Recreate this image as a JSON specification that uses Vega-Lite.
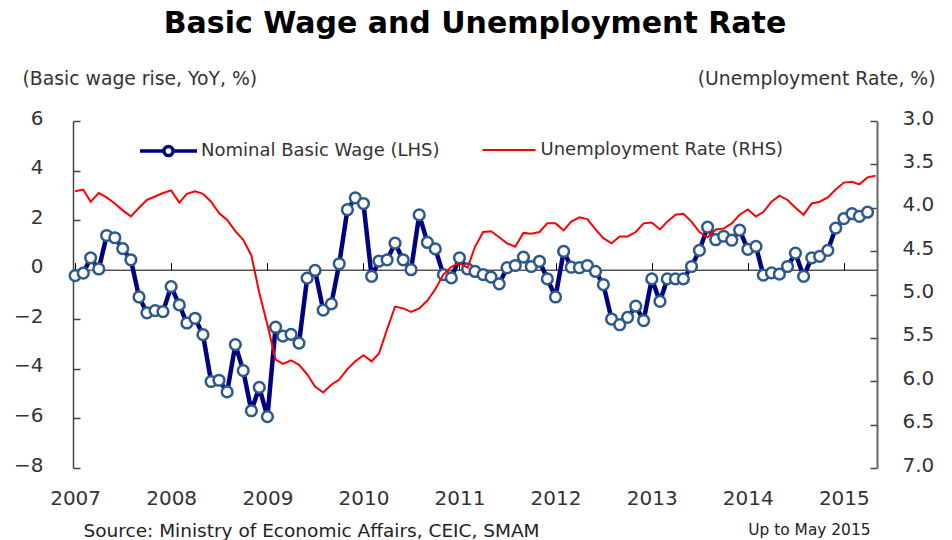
{
  "$schema": "https://vega.github.io/schema/vega-lite/v6.json",
  "width": 804,
  "height": 347,
  "autosize": "none",
  "padding": {"left": 73, "top": 121, "right": 75, "bottom": 72},
  "background": "white",
  "title": {"text": "Basic Wage and Unemployment Rate", "font": "DejaVu Sans", "fontSize": 30, "fontWeight": "bold", "color": "black", "anchor": "middle", "frame": "group", "offset": 30},
  "config": {
    "font": "DejaVu Sans",
    "view": {"stroke": null},
    "axis": {"grid": false, "labelFont": "DejaVu Sans", "labelFontSize": 20, "labelColor": "#333", "titleFont": "DejaVu Sans", "titleFontSize": 18.8, "titleFontWeight": "normal", "titleColor": "#333"}
  },
  "data": {"values": [
    {"date": "2007-01-01", "wage": -0.24, "unemp": 3.81},
    {"date": "2007-02-01", "wage": -0.14, "unemp": 3.79},
    {"date": "2007-03-01", "wage": 0.48, "unemp": 3.93},
    {"date": "2007-04-01", "wage": 0.03, "unemp": 3.83},
    {"date": "2007-05-01", "wage": 1.38, "unemp": 3.88},
    {"date": "2007-06-01", "wage": 1.29, "unemp": 3.95},
    {"date": "2007-07-01", "wage": 0.85, "unemp": 4.03},
    {"date": "2007-08-01", "wage": 0.40, "unemp": 4.10},
    {"date": "2007-09-01", "wage": -1.10, "unemp": 4.00},
    {"date": "2007-10-01", "wage": -1.74, "unemp": 3.91},
    {"date": "2007-11-01", "wage": -1.65, "unemp": 3.87},
    {"date": "2007-12-01", "wage": -1.69, "unemp": 3.83},
    {"date": "2008-01-01", "wage": -0.68, "unemp": 3.80},
    {"date": "2008-02-01", "wage": -1.42, "unemp": 3.94},
    {"date": "2008-03-01", "wage": -2.15, "unemp": 3.84},
    {"date": "2008-04-01", "wage": -1.96, "unemp": 3.81},
    {"date": "2008-05-01", "wage": -2.62, "unemp": 3.84},
    {"date": "2008-06-01", "wage": -4.51, "unemp": 3.93},
    {"date": "2008-07-01", "wage": -4.46, "unemp": 4.06},
    {"date": "2008-08-01", "wage": -4.93, "unemp": 4.14},
    {"date": "2008-09-01", "wage": -3.02, "unemp": 4.27},
    {"date": "2008-10-01", "wage": -4.07, "unemp": 4.37},
    {"date": "2008-11-01", "wage": -5.69, "unemp": 4.55},
    {"date": "2008-12-01", "wage": -4.75, "unemp": 4.98},
    {"date": "2009-01-01", "wage": -5.93, "unemp": 5.35},
    {"date": "2009-02-01", "wage": -2.32, "unemp": 5.75},
    {"date": "2009-03-01", "wage": -2.68, "unemp": 5.80},
    {"date": "2009-04-01", "wage": -2.61, "unemp": 5.76},
    {"date": "2009-05-01", "wage": -2.96, "unemp": 5.81},
    {"date": "2009-06-01", "wage": -0.34, "unemp": 5.92},
    {"date": "2009-07-01", "wage": -0.03, "unemp": 6.06},
    {"date": "2009-08-01", "wage": -1.63, "unemp": 6.13},
    {"date": "2009-09-01", "wage": -1.38, "unemp": 6.04},
    {"date": "2009-10-01", "wage": 0.24, "unemp": 5.98},
    {"date": "2009-11-01", "wage": 2.42, "unemp": 5.86},
    {"date": "2009-12-01", "wage": 2.90, "unemp": 5.77},
    {"date": "2010-01-01", "wage": 2.67, "unemp": 5.70},
    {"date": "2010-02-01", "wage": -0.27, "unemp": 5.77},
    {"date": "2010-03-01", "wage": 0.35, "unemp": 5.68},
    {"date": "2010-04-01", "wage": 0.40, "unemp": 5.40},
    {"date": "2010-05-01", "wage": 1.07, "unemp": 5.14},
    {"date": "2010-06-01", "wage": 0.40, "unemp": 5.16},
    {"date": "2010-07-01", "wage": 0.00, "unemp": 5.20},
    {"date": "2010-08-01", "wage": 2.21, "unemp": 5.16},
    {"date": "2010-09-01", "wage": 1.10, "unemp": 5.07},
    {"date": "2010-10-01", "wage": 0.84, "unemp": 4.94},
    {"date": "2010-11-01", "wage": -0.20, "unemp": 4.77},
    {"date": "2010-12-01", "wage": -0.33, "unemp": 4.68},
    {"date": "2011-01-01", "wage": 0.48, "unemp": 4.64},
    {"date": "2011-02-01", "wage": 0.03, "unemp": 4.69},
    {"date": "2011-03-01", "wage": -0.07, "unemp": 4.45},
    {"date": "2011-04-01", "wage": -0.20, "unemp": 4.28},
    {"date": "2011-05-01", "wage": -0.30, "unemp": 4.27},
    {"date": "2011-06-01", "wage": -0.57, "unemp": 4.34},
    {"date": "2011-07-01", "wage": 0.08, "unemp": 4.41},
    {"date": "2011-08-01", "wage": 0.17, "unemp": 4.45},
    {"date": "2011-09-01", "wage": 0.51, "unemp": 4.29},
    {"date": "2011-10-01", "wage": 0.13, "unemp": 4.30},
    {"date": "2011-11-01", "wage": 0.34, "unemp": 4.28},
    {"date": "2011-12-01", "wage": -0.37, "unemp": 4.18},
    {"date": "2012-01-01", "wage": -1.10, "unemp": 4.18},
    {"date": "2012-02-01", "wage": 0.74, "unemp": 4.26},
    {"date": "2012-03-01", "wage": 0.10, "unemp": 4.16},
    {"date": "2012-04-01", "wage": 0.08, "unemp": 4.11},
    {"date": "2012-05-01", "wage": 0.17, "unemp": 4.13},
    {"date": "2012-06-01", "wage": -0.07, "unemp": 4.25},
    {"date": "2012-07-01", "wage": -0.60, "unemp": 4.35},
    {"date": "2012-08-01", "wage": -1.99, "unemp": 4.41},
    {"date": "2012-09-01", "wage": -2.22, "unemp": 4.33},
    {"date": "2012-10-01", "wage": -1.92, "unemp": 4.33},
    {"date": "2012-11-01", "wage": -1.47, "unemp": 4.28},
    {"date": "2012-12-01", "wage": -2.05, "unemp": 4.18},
    {"date": "2013-01-01", "wage": -0.37, "unemp": 4.17},
    {"date": "2013-02-01", "wage": -1.28, "unemp": 4.25},
    {"date": "2013-03-01", "wage": -0.37, "unemp": 4.16},
    {"date": "2013-04-01", "wage": -0.37, "unemp": 4.08},
    {"date": "2013-05-01", "wage": -0.37, "unemp": 4.07},
    {"date": "2013-06-01", "wage": 0.13, "unemp": 4.16},
    {"date": "2013-07-01", "wage": 0.78, "unemp": 4.28},
    {"date": "2013-08-01", "wage": 1.72, "unemp": 4.34},
    {"date": "2013-09-01", "wage": 1.21, "unemp": 4.25},
    {"date": "2013-10-01", "wage": 1.35, "unemp": 4.24},
    {"date": "2013-11-01", "wage": 1.19, "unemp": 4.18},
    {"date": "2013-12-01", "wage": 1.60, "unemp": 4.08},
    {"date": "2014-01-01", "wage": 0.82, "unemp": 4.02},
    {"date": "2014-02-01", "wage": 0.94, "unemp": 4.10},
    {"date": "2014-03-01", "wage": -0.22, "unemp": 4.05},
    {"date": "2014-04-01", "wage": -0.13, "unemp": 3.93},
    {"date": "2014-05-01", "wage": -0.18, "unemp": 3.86},
    {"date": "2014-06-01", "wage": 0.13, "unemp": 3.91},
    {"date": "2014-07-01", "wage": 0.67, "unemp": 4.00},
    {"date": "2014-08-01", "wage": -0.27, "unemp": 4.08},
    {"date": "2014-09-01", "wage": 0.48, "unemp": 3.95},
    {"date": "2014-10-01", "wage": 0.54, "unemp": 3.93},
    {"date": "2014-11-01", "wage": 0.78, "unemp": 3.88},
    {"date": "2014-12-01", "wage": 1.68, "unemp": 3.79},
    {"date": "2015-01-01", "wage": 2.06, "unemp": 3.71},
    {"date": "2015-02-01", "wage": 2.26, "unemp": 3.70},
    {"date": "2015-03-01", "wage": 2.15, "unemp": 3.73},
    {"date": "2015-04-01", "wage": 2.32, "unemp": 3.65},
    {"date": "2015-05-01", "wage": null, "unemp": 3.63}
  ]},
  "layer": [
    {
      "encoding": {
        "x": {"field": "date", "type": "temporal",
          "scale": {"type": "utc", "domain": [{"year": 2006, "month": 12, "date": 24, "utc": true}, {"year": 2015, "month": 5, "date": 7, "utc": true}]},
          "axis": {"orient": "bottom", "domain": false, "ticks": false, "labelPadding": 20, "format": "%Y", "labelFlush": false, "labelOverlap": false, "tickCount": {"interval": "year", "step": 1},
            "title": "Source: Ministry of Economic Affairs, CEIC, SMAM", "titleX": 10, "titleY": 62, "titleAlign": "left", "titleBaseline": "middle", "titleFontSize": 18.5, "titleColor": "#222", "titleAngle": 0}},
        "y": {"field": "wage", "type": "quantitative",
          "scale": {"domain": [-8, 6], "nice": false, "zero": false},
          "axis": {"orient": "left", "values": [-8, -6, -4, -2, 0, 2, 4, 6], "domainColor": "#444", "domainWidth": 1.5, "tickColor": "#444", "tickWidth": 1.5, "tickSize": -7, "labelPadding": 37, "labelOffset": -3,
            "title": "(Basic wage rise, YoY, %)", "titleX": -51, "titleY": -43, "titleAlign": "left", "titleBaseline": "middle", "titleAngle": 0}}
      },
      "layer": [
        {"mark": {"type": "line", "strokeWidth": 4.5, "strokeJoin": "round"},
          "encoding": {"color": {"datum": "Nominal Basic Wage (LHS)", "type": "nominal", "scale": {"range": ["#000080"]},
            "legend": {"orient": "none", "legendX": 65, "legendY": -0.5, "title": null, "padding": 0,
              "symbolType": "M-1,0L-0.16,0M0.16,0L1,0M0.16,0A0.16,0.16,0,1,1,-0.16,0A0.16,0.16,0,1,1,0.16,0",
              "symbolSize": 3249, "symbolStrokeWidth": 3.5, "labelFont": "DejaVu Sans", "labelFontSize": 18, "labelColor": "#333", "labelOffset": 2, "labelLimit": 0,
              "encode": {"symbols": {"update": {"fill": {"value": "white"}, "stroke": {"value": "#000080"}, "strokeWidth": {"value": 3.5}, "opacity": {"value": 1}}}}}}}},
        {"mark": {"type": "point", "shape": "circle", "filled": true, "fill": "white", "stroke": "#2E5A8A", "strokeWidth": 2.5, "size": 115, "opacity": 1}}
      ]
    },
    {
      "mark": {"type": "line", "strokeWidth": 2},
      "encoding": {
        "x": {"field": "date", "type": "temporal",
          "scale": {"type": "utc", "domain": [{"year": 2006, "month": 12, "date": 24, "utc": true}, {"year": 2015, "month": 5, "date": 7, "utc": true}]},
          "axis": {"orient": "top", "offset": -148.7, "labels": false, "ticks": true, "tickSize": 7, "tickColor": "black", "domainColor": "black", "domainWidth": 1, "tickCount": {"interval": "year", "step": 1},
            "title": "Up to May 2015", "titleX": 797, "titleY": 259.3, "titleAlign": "right", "titleBaseline": "middle", "titleFontSize": 15.4, "titleColor": "#222", "titleAngle": 0}},
        "y": {"field": "unemp", "type": "quantitative",
          "scale": {"domain": [3, 7], "reverse": true, "nice": false, "zero": false},
          "axis": {"orient": "right", "values": [3, 3.5, 4, 4.5, 5, 5.5, 6, 6.5, 7], "format": ".1f", "domainColor": "#666", "domainWidth": 2, "tickColor": "#444", "tickWidth": 1.5, "tickSize": -7, "labelPadding": 32, "labelOffset": -3,
            "title": "(Unemployment Rate, %)", "titleX": 58, "titleY": -43, "titleAlign": "right", "titleBaseline": "middle", "titleAngle": 0}},
        "color": {"datum": "Unemployment Rate (RHS)", "type": "nominal", "scale": {"range": ["#FF0000"]},
          "legend": {"orient": "none", "legendX": 408.5, "legendY": 1.5, "title": null, "padding": 0,
            "symbolType": "stroke", "symbolSize": 2809, "symbolStrokeWidth": 2, "labelFont": "DejaVu Sans", "labelFontSize": 18, "labelColor": "#333", "labelOffset": 4, "labelLimit": 0}}
      }
    }
  ],
  "resolve": {"scale": {"y": "independent", "color": "independent"}, "axis": {"x": "independent"}}
}
